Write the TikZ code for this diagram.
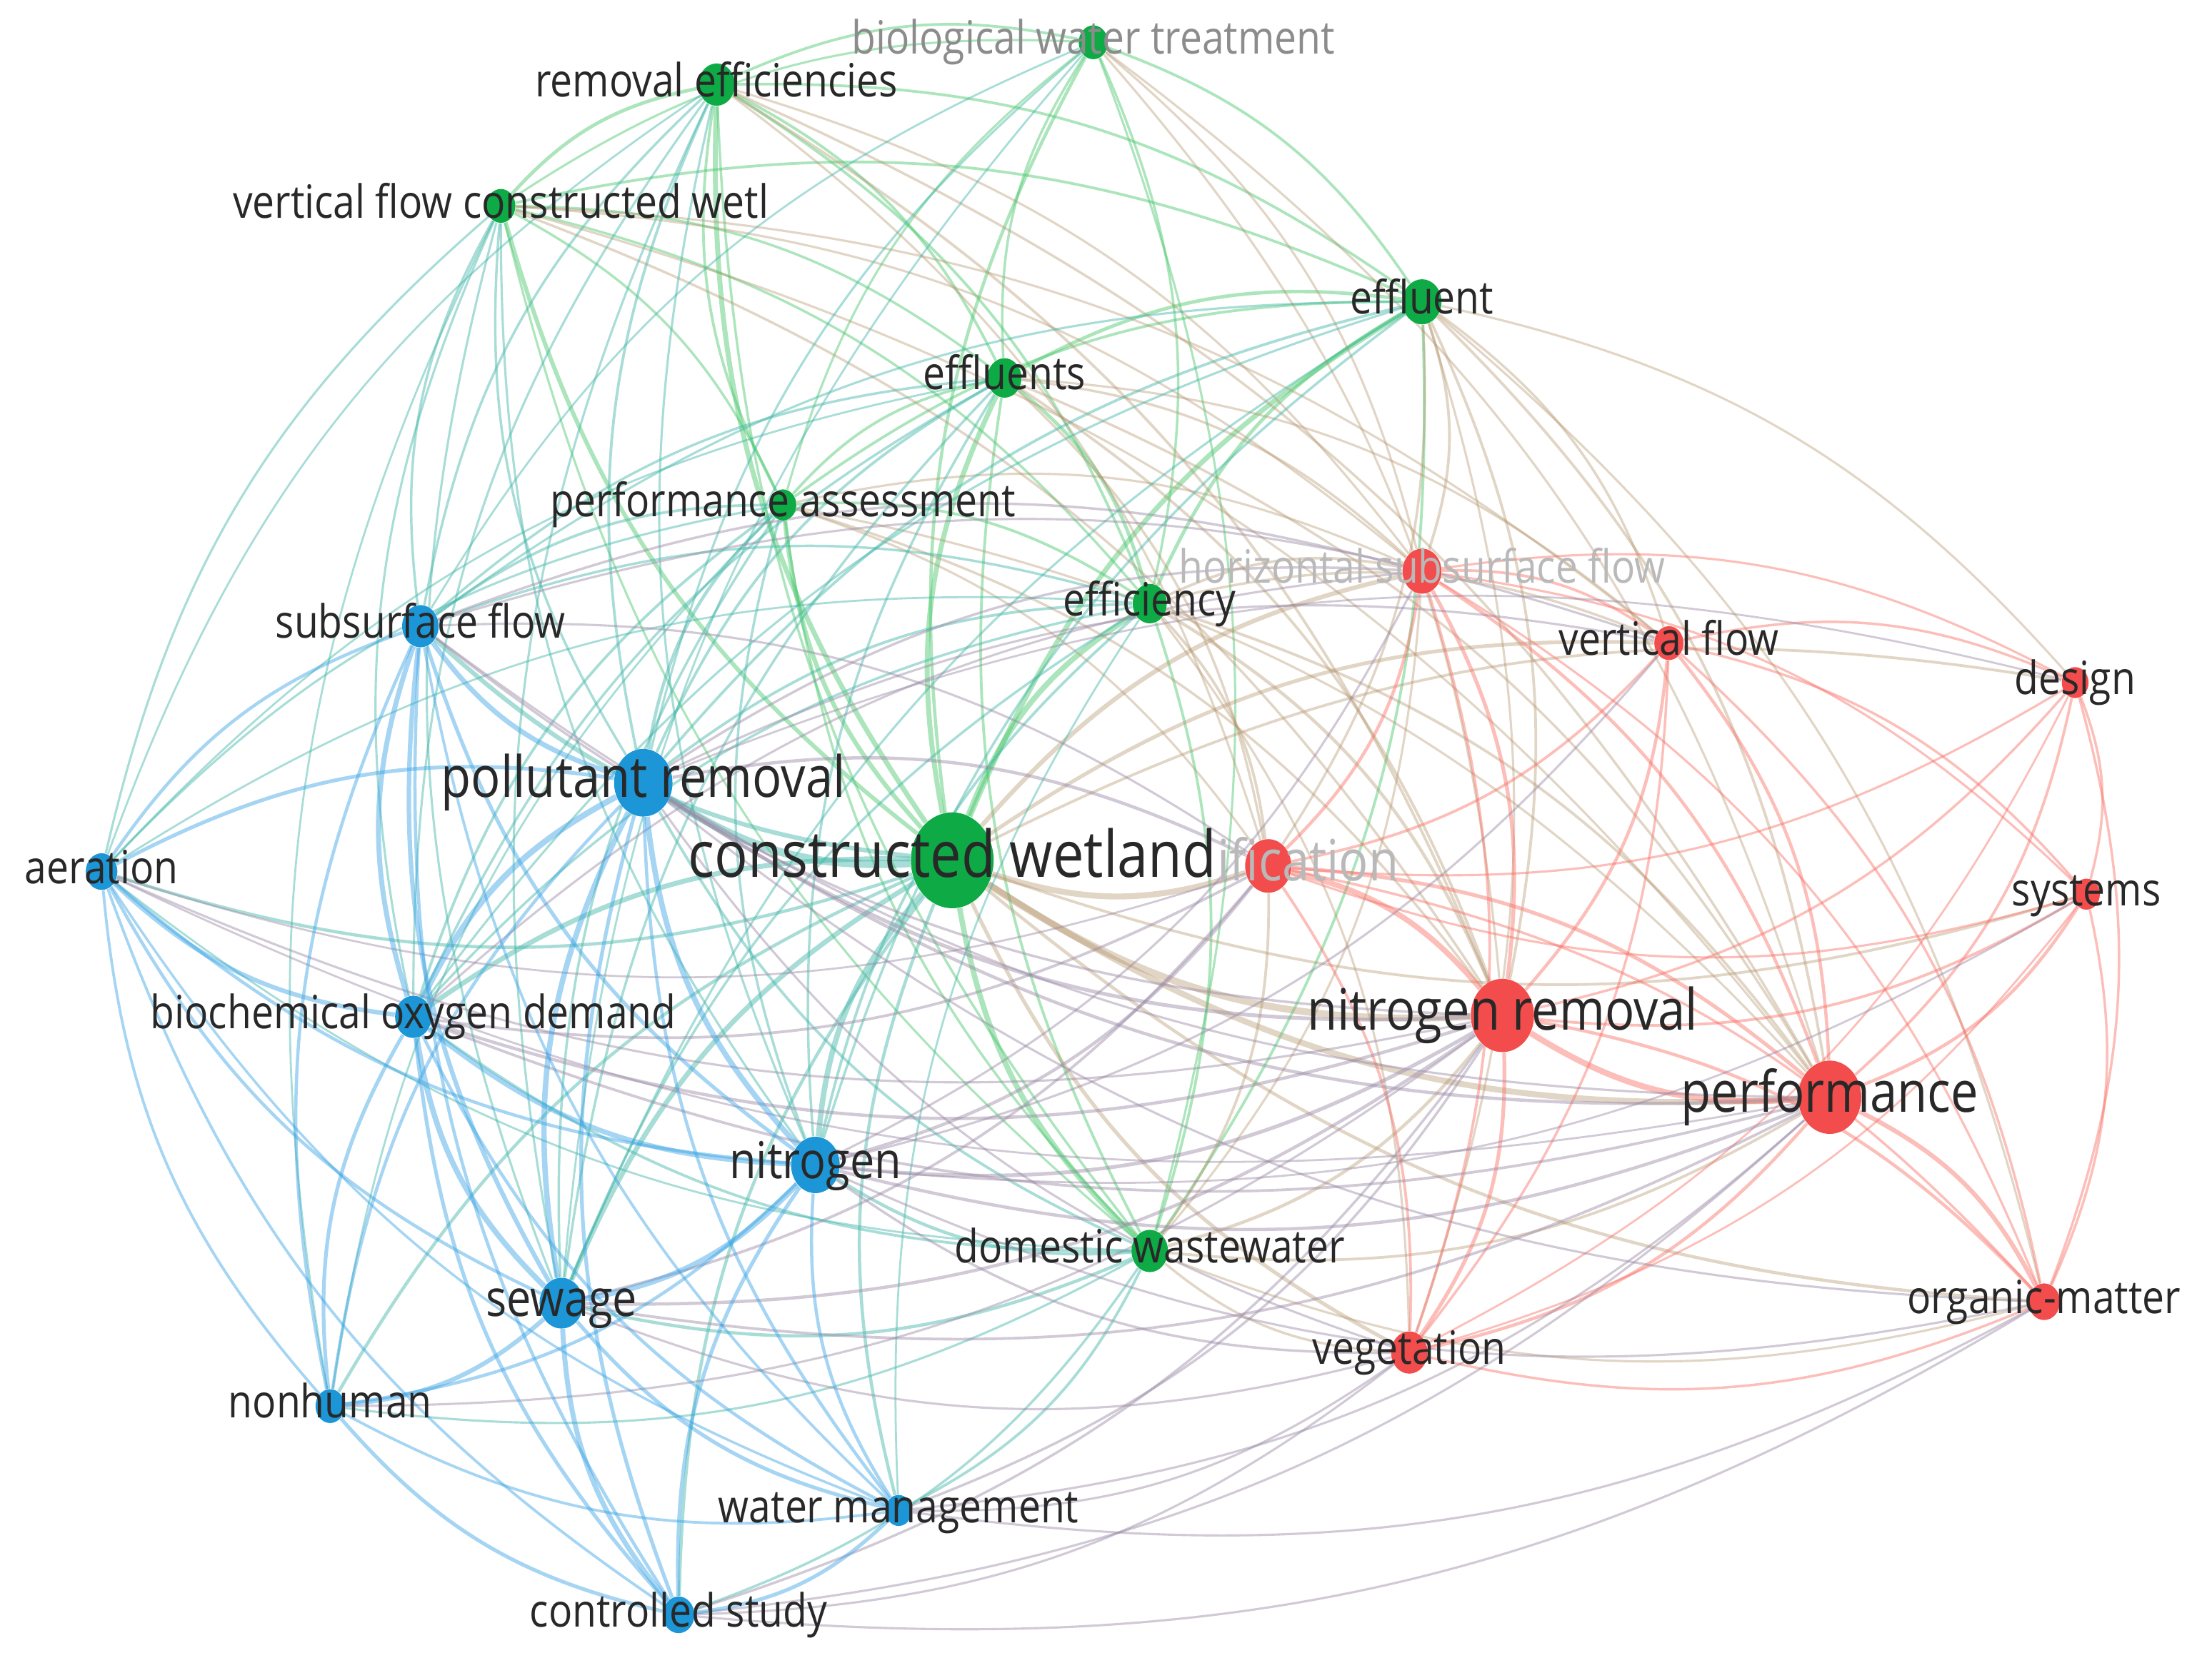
\documentclass[tikz,border=0pt]{standalone}
\usepackage{fontspec}
\setmainfont[FakeStretch=0.86]{Open Sans}
\usetikzlibrary{shapes.geometric,calc}

\definecolor{gnode}{RGB}{14,170,70}
\definecolor{rnode}{RGB}{242,76,76}
\definecolor{bnode}{RGB}{28,150,214}
\definecolor{gedge}{RGB}{70,198,106}
\definecolor{redge}{RGB}{248,110,100}
\definecolor{bedge}{RGB}{56,162,228}
\colorlet{gredge}{gedge!40!redge}
\colorlet{gbedge}{gedge!50!bedge}
\colorlet{rbedge}{redge!50!bedge}
\definecolor{lbl}{RGB}{40,40,40}
\definecolor{lblgrey}{RGB}{140,140,140}
\definecolor{lblpale}{RGB}{185,185,185}

\pgfdeclarelayer{links}
\pgfsetlayers{links,main}

\tikzset{
  kw/.style={ellipse, inner sep=0pt, draw=none, minimum height=#1*0.04cm, minimum width=#1*0.0345cm},
  gkw/.style={kw=#1, fill=gnode},
  rkw/.style={kw=#1, fill=rnode},
  bkw/.style={kw=#1, fill=bnode},
  lab/.style={inner sep=0pt, text height=14.2pt, text depth=4.6pt, text=lbl, font=\fontsize{18.5}{20}\selectfont},
  labm/.style={lab, text height=15.8pt, text depth=5.1pt, font=\fontsize{20.5}{22}\selectfont},
  labl/.style={lab, text height=17.7pt, text depth=5.8pt, font=\fontsize{23}{25}\selectfont},
  labh/.style={lab, text height=20pt, text depth=6.5pt, font=\fontsize{26}{28}\selectfont},
}

% curved links, bent away from the middle of the map
\newcommand{\linkset}[3][.45]{%
  \foreach \a/\b/\w in {#3}{%
    \draw[#2, line width=\w pt, draw opacity=#1]
      let \p3=(ctr), \p1=(\a.center), \p2=(\b.center),
          \n1={(\y1-\y2)/100*((\x1+\x2)/2-\x3)/100+(\x2-\x1)/100*((\y1+\y2)/2-\y3)/100},
          \n2={ifthenelse(\n1>0,18,-18)}
      in (\a) to[bend left=\n2] (\b);
  }}

\begin{document}
\begin{tikzpicture}[x=0.02cm, y=-0.02cm]
\useasboundingbox (0,0) rectangle (1568,1179);
\coordinate (ctr) at (780,600);

% green cluster
\node[gkw=12] (bwt) at (775,30) {};
\node[gkw=15] (reff) at (508,60) {};
\node[gkw=12] (vfcw) at (355,146) {};
\node[gkw=16] (effl) at (1008,214) {};
\node[gkw=14] (effs) at (712,268) {};
\node[gkw=11] (pass) at (555,358) {};
\node[gkw=14] (eff) at (815,428) {};
\node[gkw=34] (cw) at (675,610) {};
\node[gkw=15] (dww) at (815,887) {};

% red cluster
\node[rkw=16] (hssf) at (1008,405) {};
\node[rkw=12] (vf) at (1183,456) {};
\node[rkw=11] (des) at (1471,484) {};
\node[rkw=19] (nit) at (899,614) {};
\node[rkw=11] (sys) at (1479,634) {};
\node[rkw=26] (nrem) at (1065,720) {};
\node[rkw=26] (perf) at (1297,778) {};
\node[rkw=13] (om) at (1449,923) {};
\node[rkw=15] (veg) at (999,959) {};

% blue cluster
\node[bkw=15] (ssf) at (298,444) {};
\node[bkw=24] (prem) at (456,555) {};
\node[bkw=13] (aer) at (72,618) {};
\node[bkw=15] (bod) at (293,721) {};
\node[bkw=20] (ntr) at (578,826) {};
\node[bkw=18] (sew) at (398,924) {};
\node[bkw=12] (nonh) at (234,997) {};
\node[bkw=11] (wm) at (637,1071) {};
\node[bkw=13] (cst) at (481,1145) {};

\begin{pgfonlayer}{links}
% green - green
\linkset{gedge}{bwt/reff/1.1, bwt/vfcw/0.9, bwt/effl/1.1, bwt/effs/1, bwt/pass/0.9, bwt/eff/1, bwt/cw/1.3, bwt/dww/0.9,
  reff/vfcw/1.4, reff/effl/1.1, reff/effs/1.1, reff/pass/1.1, reff/eff/1.1, reff/cw/2, reff/dww/1,
  vfcw/effl/1.1, vfcw/effs/1, vfcw/pass/1, vfcw/eff/1, vfcw/cw/1.7, vfcw/dww/0.9,
  effl/effs/1.4, effl/pass/1.1, effl/eff/1.4, effl/cw/2, effl/dww/1.1,
  effs/pass/1.1, effs/eff/1.4, effs/cw/2, effs/dww/1.1,
  pass/eff/1.1, pass/cw/1.8, pass/dww/1, eff/cw/2.2, eff/dww/1.1, cw/dww/2.2}
% green - red
\linkset[.38]{gredge}{bwt/nrem/0.9, bwt/perf/0.9, bwt/hssf/0.9,
  reff/nrem/1.1, reff/perf/1, reff/hssf/0.9, reff/nit/0.9,
  vfcw/nrem/1, vfcw/hssf/0.9, vfcw/vf/0.9, vfcw/perf/0.9,
  effl/nrem/1.1, effl/perf/1.1, effl/hssf/1.1, effl/vf/1, effl/nit/1, effl/veg/0.9, effl/om/0.9, effl/des/0.9,
  effs/nrem/1.1, effs/perf/1, effs/nit/1, effs/hssf/1, effs/vf/0.9,
  pass/nrem/1, pass/nit/0.9, pass/perf/0.9, pass/hssf/0.9,
  eff/nrem/1.3, eff/perf/1.1, eff/nit/1.1, eff/hssf/1.1, eff/vf/1, eff/veg/0.9,
  cw/nit/2.4, cw/nrem/2.8, cw/perf/2.4, cw/hssf/1.8, cw/vf/1.5, cw/veg/1.5, cw/om/1.3, cw/des/1.1, cw/sys/1.1,
  dww/nrem/1.3, dww/perf/1.1, dww/nit/1.1, dww/veg/1, dww/hssf/0.9, dww/om/0.9}
% green - blue
\linkset{gbedge}{bwt/prem/0.9, bwt/sew/0.8, bwt/ssf/0.8,
  reff/prem/1.1, reff/ssf/1, reff/bod/0.9, reff/aer/0.8, reff/ntr/0.9, reff/sew/0.9,
  vfcw/prem/1, vfcw/ssf/1, vfcw/aer/0.9, vfcw/bod/0.9, vfcw/ntr/0.9, vfcw/sew/0.9, vfcw/nonh/0.8,
  effl/prem/1.1, effl/ssf/0.9, effl/ntr/1, effl/sew/0.9, effl/bod/0.9,
  effs/prem/1.1, effs/ssf/1, effs/bod/1, effs/ntr/1, effs/sew/1, effs/aer/0.8,
  pass/prem/1.3, pass/ssf/1.1, pass/bod/1.1, pass/aer/0.9, pass/ntr/1, pass/sew/1, pass/nonh/0.8,
  eff/prem/1.1, eff/ssf/1, eff/bod/1, eff/ntr/1.1, eff/sew/1, eff/aer/0.8, eff/wm/0.8,
  cw/prem/3.2, cw/ssf/1.8, cw/aer/1.3, cw/bod/2, cw/ntr/2.2, cw/sew/2, cw/nonh/1.3, cw/wm/1.3, cw/cst/1.3,
  dww/prem/1.1, dww/bod/1.1, dww/ntr/1.3, dww/sew/1.3, dww/wm/1.1, dww/cst/1, dww/nonh/0.9, dww/aer/0.8}
% red - red
\linkset{redge}{hssf/vf/1.1, hssf/des/0.9, hssf/nit/1.3, hssf/sys/0.9, hssf/nrem/1.5, hssf/perf/1.3, hssf/om/0.9, hssf/veg/1.1,
  vf/des/1, vf/nit/1.1, vf/sys/1, vf/nrem/1.3, vf/perf/1.3, vf/om/1, vf/veg/1,
  des/nit/0.9, des/sys/1, des/nrem/1, des/perf/1.1, des/om/1, des/veg/0.8,
  nit/sys/0.9, nit/nrem/2.2, nit/perf/1.5, nit/om/1, nit/veg/1.1,
  sys/nrem/1.1, sys/perf/1.3, sys/om/1, sys/veg/0.8,
  nrem/perf/2.4, nrem/om/1.3, nrem/veg/1.5, perf/om/1.8, perf/veg/1.3, om/veg/1}
% red - blue
\linkset{rbedge}{nrem/prem/1.5, nrem/ntr/1.5, nrem/sew/1.3, nrem/bod/1.3, nrem/ssf/1, nrem/aer/0.9, nrem/wm/1, nrem/cst/1, nrem/nonh/0.9,
  perf/prem/1.3, perf/ntr/1.3, perf/sew/1.1, perf/bod/1.1, perf/ssf/0.9, perf/wm/0.9, perf/cst/0.9, perf/aer/0.8,
  nit/prem/1.3, nit/ntr/1.3, nit/sew/1.1, nit/bod/1.1, nit/ssf/0.9, nit/aer/0.8,
  hssf/prem/1, hssf/ssf/1, hssf/bod/0.9, hssf/ntr/0.9,
  vf/prem/0.9, vf/ssf/0.9, vf/ntr/0.9,
  veg/prem/0.9, veg/ntr/1, veg/sew/0.9, veg/wm/0.9, veg/cst/0.9,
  om/prem/0.9, om/ntr/0.9, om/wm/0.9, om/cst/0.9, des/prem/0.8, sys/ntr/0.8}
% blue - blue
\linkset{bedge}{ssf/prem/2, ssf/aer/1.3, ssf/bod/2, ssf/ntr/1.5, ssf/sew/1.8, ssf/nonh/1.3, ssf/wm/1.1, ssf/cst/1.3,
  prem/aer/1.5, prem/bod/2.4, prem/ntr/2.2, prem/sew/2.2, prem/nonh/1.3, prem/wm/1.3, prem/cst/1.5,
  aer/bod/1.8, aer/ntr/1.3, aer/sew/1.3, aer/nonh/1.1, aer/wm/1, aer/cst/1.1,
  bod/ntr/2, bod/sew/2.2, bod/nonh/1.5, bod/wm/1.3, bod/cst/1.5,
  ntr/sew/2.2, ntr/nonh/1.3, ntr/wm/1.3, ntr/cst/1.5,
  sew/nonh/1.8, sew/wm/1.5, sew/cst/2, nonh/wm/1.1, nonh/cst/1.5, wm/cst/1.5}
\end{pgfonlayer}

% labels
\foreach \n/\t in {reff/removal efficiencies, vfcw/vertical flow constructed wetl, effl/effluent, effs/effluents,
  pass/performance assessment, eff/efficiency, dww/domestic wastewater, vf/vertical flow, des/design,
  sys/systems, om/organic-matter, veg/vegetation, ssf/subsurface flow, aer/aeration,
  bod/biochemical oxygen demand, nonh/nonhuman, wm/water management, cst/controlled study}
  \node[lab] at (\n) {\t};
\node[lab, text=lblgrey] at (bwt) {biological water treatment};
\node[lab, text=lblpale] at (hssf) {horizontal subsurface flow};
\node[labm] at (ntr) {nitrogen};
\node[labm] at (sew) {sewage};
\node[labl] at (prem) {pollutant removal};
\node[labl] at (nrem) {nitrogen removal};
\node[labl] at (perf) {performance};
\begin{scope}
  \clip (863,585) rectangle (1020,645);
  \node[labl, text=lblpale] at (nit) {nitrification};
\end{scope}
\node[labh] at (cw) {constructed wetland};
\end{tikzpicture}
\end{document}
